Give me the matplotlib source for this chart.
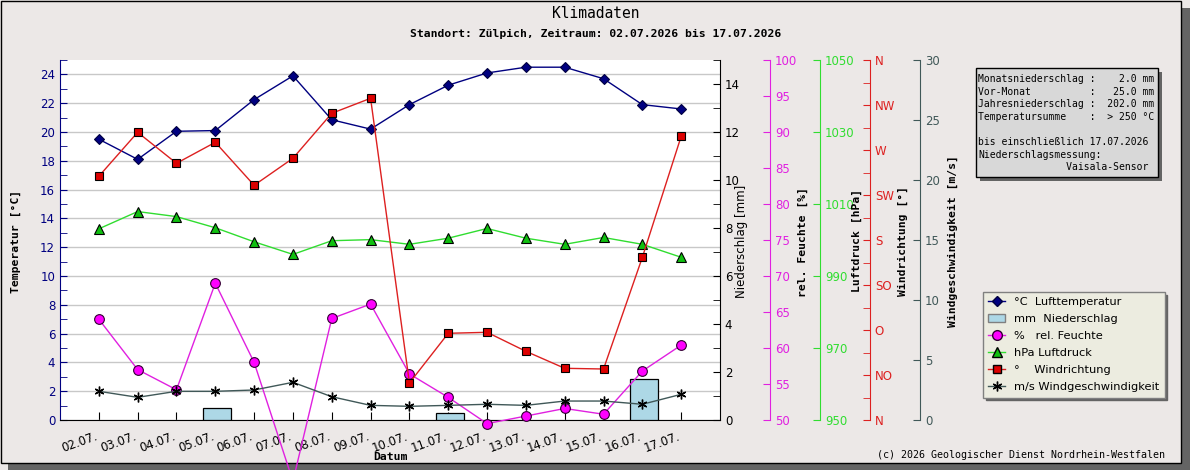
import numpy as np
import matplotlib.pyplot as plt
from matplotlib.patches import Rectangle
from matplotlib.lines import Line2D
from matplotlib.ticker import MultipleLocator, FixedLocator
from matplotlib.transforms import ScaledTranslation

# Daten
datum = ['02.07.', '03.07.', '04.07.', '05.07.', '06.07.', '07.07.', '08.07.', '09.07.',
         '10.07.', '11.07.', '12.07.', '13.07.', '14.07.', '15.07.', '16.07.', '17.07.']
temperatur = [19.5, 18.1, 20.05, 20.1, 22.25, 23.9, 20.85, 20.2,
              21.9, 23.25, 24.1, 24.5, 24.5, 23.7, 21.9, 21.6]
niederschlag = [0, 0, 0, 0.5, 0, 0, 0, 0, 0, 0.3, 0, 0, 0, 0, 1.7, 0]
feuchte = [64.0, 57.0, 54.2, 69.0, 58.0, 41.5, 64.1, 66.1,
           56.4, 53.15, 49.5, 50.55, 51.6, 50.8, 56.8, 60.4]
luftdruck = [1003.1, 1007.9, 1006.5, 1003.4, 999.5, 996.0, 999.8, 1000.1,
             998.8, 1000.5, 1003.2, 1000.5, 998.8, 1000.7, 998.8, 995.2]
windrichtung = [243.7, 287.7, 256.7, 277.7, 234.7, 261.7, 306.7, 321.7,
                37, 86.7, 87.7, 68.7, 51.7, 51, 162.7, 283.7]
windgeschw = [2.39, 1.89, 2.39, 2.39, 2.5, 3.14, 1.94, 1.22,
              1.14, 1.22, 1.31, 1.22, 1.58, 1.58, 1.31, 2.14]
richtungen = ['N', 'NO', 'O', 'SO', 'S', 'SW', 'W', 'NW', 'N']

info_zeilen = ['Monatsniederschlag :    2.0 mm',
               'Vor-Monat          :   25.0 mm',
               'Jahresniederschlag :  202.0 mm',
               'Temperatursumme    :  > 250 °C',
               '',
               'bis einschließlich 17.07.2026',
               'Niederschlagsmessung:',
               '               Vaisala-Sensor']

W, H = 1190, 470
bg = '#ece8e7'
mono = 'DejaVu Sans Mono'

c_temp = '#000080'
c_hum = '#e020e0'
c_pres = '#30dd30'
c_dir = '#dd2020'
c_ws = '#405858'

fig = plt.figure(figsize=(W / 100, H / 100), dpi=100, facecolor=bg)

def fx(p):
    return p / W

def fy(p):
    return 1 - p / H

# Rahmen mit Schatten
fig.patches.append(Rectangle((fx(8), 0), fx(W - 8), fy(8), transform=fig.transFigure,
                             facecolor='#646464', edgecolor='none', zorder=-3))
fig.patches.append(Rectangle((fx(0.5), fy(463)), fx(1180), 463 / H - 0.5 / H, transform=fig.transFigure,
                             facecolor=bg, edgecolor='black', lw=1, zorder=-2))

ax = fig.add_axes([fx(60), fy(420), fx(660), 360 / H])
x = np.arange(len(datum))
ax.set_xlim(-1, len(datum))
ax.set_ylim(0, 25)
ax.set_facecolor('white')
ax.yaxis.set_major_locator(MultipleLocator(2))
ax.yaxis.set_minor_locator(MultipleLocator(1))
ax.grid(axis='y', color='#c8c8c8', lw=1)
ax.set_axisbelow(True)
ax.spines['top'].set_visible(False)
ax.spines['right'].set_visible(False)
ax.spines['left'].set_color(c_temp)
ax.tick_params(axis='y', which='both', direction='in', colors=c_temp, labelsize=8.5, length=5)
ax.set_xticks(x)
ax.set_xticklabels(datum, rotation=20, ha='right', rotation_mode='anchor')
ax.tick_params(axis='x', direction='in', length=6, labelsize=8.5, pad=7)
for lbl in ax.get_xticklabels():
    lbl.set_transform(lbl.get_transform() + ScaledTranslation(-0.04, 0, fig.dpi_scale_trans))

def zusatzachse(off, col, ylim):
    a = ax.twinx()
    a.set_xlim(-1, len(datum))
    a.set_ylim(*ylim)
    a.patch.set_visible(False)
    for s in ['left', 'top', 'bottom']:
        a.spines[s].set_visible(False)
    a.spines['right'].set_position(('axes', 1 + off / 660))
    a.spines['right'].set_color(col)
    a.tick_params(axis='y', which='both', direction='in', colors=col, labelsize=8.5, length=5)
    return a

ax_n = zusatzachse(0, 'black', (0, 15))
ax_n.yaxis.set_major_locator(MultipleLocator(2))
ax_n.yaxis.set_minor_locator(MultipleLocator(1))
ax_h = zusatzachse(50, c_hum, (50, 100))
ax_h.yaxis.set_major_locator(MultipleLocator(5))
ax_p = zusatzachse(100, c_pres, (950, 1050))
ax_p.yaxis.set_major_locator(FixedLocator(np.arange(950, 1051, 20)))
ax_d = zusatzachse(150, c_dir, (0, 360))
ax_d.yaxis.set_major_locator(FixedLocator(np.arange(0, 361, 45)))
ax_d.set_yticklabels(richtungen)
ax_d.yaxis.set_minor_locator(MultipleLocator(22.5))
ax_w = zusatzachse(200, c_ws, (0, 30))
ax_w.yaxis.set_major_locator(MultipleLocator(5))

# Niederschlag
n = np.array(niederschlag)
m = n > 0
ax_n.bar(x[m] + 0.05, n[m], width=0.72, color='#add8e6', edgecolor='black', lw=0.9)

ax_w.plot(x, windgeschw, color=c_ws, lw=1, marker=(6, 2, 0), ms=7, mec='black', mew=1, clip_on=False)
ax_h.plot(x, feuchte, color=c_hum, lw=1, marker='o', ms=7, mfc='#ff00ff', mec='#300030', mew=0.8, clip_on=False)
ax_p.plot(x, luftdruck, color=c_pres, lw=1, marker='^', ms=6.5, mfc='#10c010', mec='black', mew=0.8, clip_on=False)
ax_d.plot(x, windrichtung, color=c_dir, lw=1, marker='s', ms=5.5, mfc='#dd0000', mec='black', mew=0.8, clip_on=False)
ax.plot(x, temperatur, color=c_temp, lw=1, marker='D', ms=5, mfc=c_temp, mec='#000040', mew=0.8, clip_on=False)

# Titel
fig.text(fx(596), fy(14), 'Klimadaten', family=mono, fontsize=10.5, ha='center', va='center')
fig.text(fx(596), fy(34), 'Standort: Zülpich, Zeitraum: 02.07.2026 bis 17.07.2026',
         family=mono, fontsize=8.2, weight='bold', ha='center', va='center')

# Achsentitel
fig.text(fx(16), fy(241), 'Temperatur [°C]', family=mono, fontsize=8.2, weight='bold',
         rotation=90, ha='center', va='center')
fig.text(fx(741), fy(241), 'Niederschlag [mm]', fontsize=8.5, rotation=90, ha='center', va='center')
fig.text(fx(803), fy(242), 'rel. Feuchte [%]', family=mono, fontsize=8.2, weight='bold',
         rotation=90, ha='center', va='center')
fig.text(fx(857), fy(240), 'Luftdruck [hPa]', family=mono, fontsize=8.2, weight='bold',
         rotation=90, ha='center', va='center')
fig.text(fx(903), fy(241), 'Windrichtung [°]', family=mono, fontsize=8.2, weight='bold',
         rotation=90, ha='center', va='center')
fig.text(fx(953), fy(241), 'Windgeschwindigkeit [m/s]', family=mono, fontsize=8.2, weight='bold',
         rotation=90, ha='center', va='center')
fig.text(fx(390), fy(457), 'Datum', family=mono, fontsize=8.2, weight='bold', ha='center', va='center')
fig.text(fx(1165), fy(455), '(c) 2026 Geologischer Dienst Nordrhein-Westfalen', family=mono,
         fontsize=7.2, ha='right', va='center')

# Infobox
fig.patches.append(Rectangle((fx(980), fy(181)), fx(182), 109 / H, transform=fig.transFigure,
                             facecolor='#646464', edgecolor='none'))
fig.patches.append(Rectangle((fx(976), fy(177)), fx(182), 109 / H, transform=fig.transFigure,
                             facecolor='#d8d8d8', edgecolor='black', lw=1))
for i, z in enumerate(info_zeilen):
    fig.text(fx(978), fy(79 + i * 12.6), z, family=mono, fontsize=7.05, ha='left', va='center')

# Legende
handles = [
    Line2D([], [], color=c_temp, lw=1, marker='D', ms=5, mfc=c_temp, mec='#000040'),
    Rectangle((0, 0), 1, 1, facecolor='#add8e6', edgecolor='#808080'),
    Line2D([], [], color=c_hum, lw=1, marker='o', ms=7, mfc='#ff00ff', mec='#300030'),
    Line2D([], [], color=c_pres, lw=1, marker='^', ms=6.5, mfc='#10c010', mec='black'),
    Line2D([], [], color=c_dir, lw=1, marker='s', ms=5.5, mfc='#dd0000', mec='black'),
    Line2D([], [], color=c_ws, lw=1, marker=(6, 2, 0), ms=7, mec='black'),
]
labels = ['°C  Lufttemperatur', 'mm  Niederschlag', '%   rel. Feuchte', 'hPa Luftdruck',
          '°    Windrichtung', 'm/s Windgeschwindigkeit']
leg = fig.legend(handles, labels, loc='upper left', bbox_to_anchor=(fx(983), fy(292)),
                 frameon=True, fancybox=False, fontsize=8.2, handlelength=1.5,
                 handletextpad=0.8, labelspacing=0.62, borderpad=0.45, borderaxespad=0,
                 shadow={'color': '#646464', 'alpha': 1})
leg.get_frame().set_facecolor('#ecece0')
leg.get_frame().set_edgecolor('#808080')
leg.get_frame().set_alpha(1)

fig.savefig('out.png', dpi=100, facecolor=bg)
